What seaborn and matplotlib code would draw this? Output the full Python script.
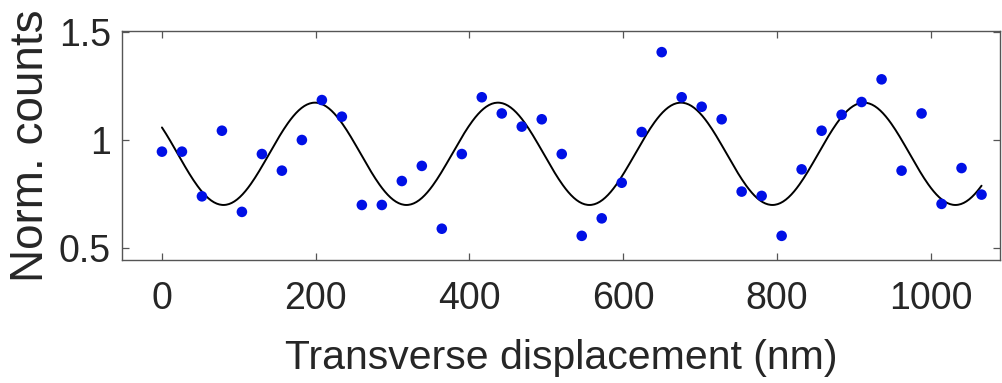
import numpy as np
import pandas as pd
import matplotlib
matplotlib.use("Agg")
import matplotlib.pyplot as plt
import seaborn as sns

# measured points
displacement = [0, 26, 52, 78, 104, 130, 156, 182, 208, 234,
                260, 286, 312, 338, 364, 390, 416, 442, 468, 494,
                520, 546, 572, 598, 624, 650, 676, 702, 728, 754,
                780, 806, 832, 858, 884, 910, 936, 962, 988, 1014,
                1040, 1066]
counts = [0.946, 0.946, 0.739, 1.043, 0.667, 0.935, 0.858, 1.000, 1.185, 1.108,
          0.699, 0.699, 0.810, 0.880, 0.589, 0.935, 1.198, 1.123, 1.062, 1.096,
          0.935, 0.556, 0.637, 0.802, 1.037, 1.407, 1.198, 1.154, 1.096, 0.761,
          0.741, 0.556, 0.864, 1.043, 1.117, 1.176, 1.281, 0.858, 1.123, 0.704,
          0.870, 0.747]

# cosine fit parameters
fit_offset = 0.936
fit_amplitude = 0.237
fit_period = 238.0
fit_peak = 199.0

x_ticks = [0, 200, 400, 600, 800, 1000]
y_ticks = [0.5, 1, 1.5]
y_tick_labels = ["0.5", "1", "1.5"]

points = pd.DataFrame({"x": displacement, "y": counts})
fit_x = np.linspace(displacement[0], displacement[-1], 600)
fit = pd.DataFrame({
    "x": fit_x,
    "y": fit_offset + fit_amplitude * np.cos(2 * np.pi * (fit_x - fit_peak) / fit_period),
})

sns.set_style("ticks")
plt.rcParams["font.family"] = ["Liberation Sans", "DejaVu Sans"]

fig = plt.figure(figsize=(10.03, 3.83), dpi=100)
ax = fig.add_axes([0.1216, 0.3211, 0.8754, 0.598])

sns.lineplot(data=fit, x="x", y="y", ax=ax, color="black", linewidth=1.4)
sns.scatterplot(data=points, x="x", y="y", ax=ax, color="#0010e6",
                s=58, edgecolor="none", zorder=3)

ax.set_xlim(-52, 1090)
ax.set_ylim(0.444, 1.505)
ax.set_xticks(x_ticks)
ax.set_yticks(y_ticks)
ax.set_yticklabels(y_tick_labels)

for side in ["top", "right", "left", "bottom"]:
    ax.spines[side].set_visible(True)
    ax.spines[side].set_color("#555555")
    ax.spines[side].set_linewidth(1.0)

ax.tick_params(axis="both", direction="in", length=5, width=0.9, color="#555555",
               labelsize=27, labelcolor="#262626", top=True, right=True)
ax.tick_params(axis="x", pad=15)
ax.tick_params(axis="y", pad=8)

ax.set_xlabel("Transverse displacement (nm)", fontsize=29.5, color="#262626", labelpad=16)
ax.set_ylabel("Norm. counts", fontsize=33, color="#262626", labelpad=4)

fig.savefig("out.png", dpi=100)
